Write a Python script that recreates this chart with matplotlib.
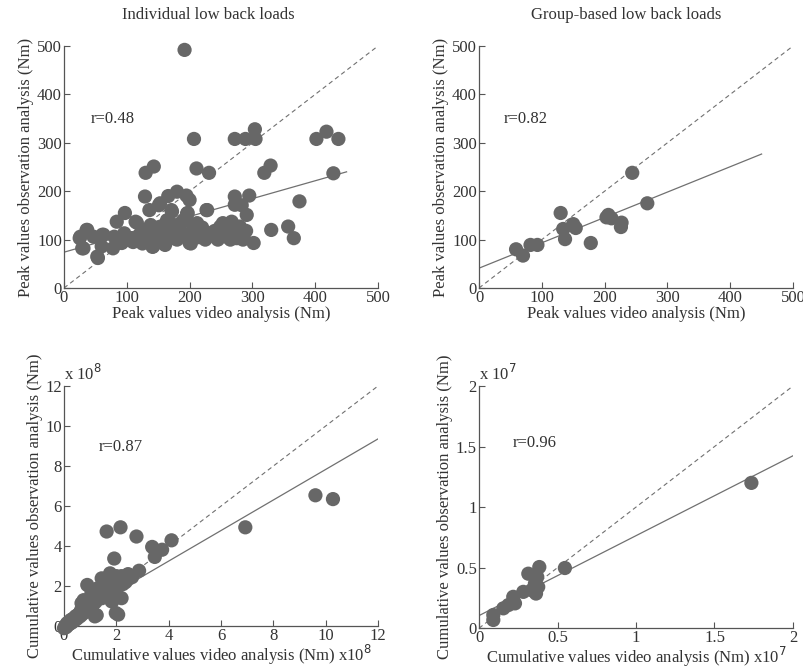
import matplotlib.pyplot as plt
from matplotlib.ticker import FormatStrFormatter

plt.rcParams['font.family'] = ['Liberation Serif', 'DejaVu Serif']

# Individual peak values (Nm)
peak_ind_video = [192, 207, 272, 289, 304, 305, 402, 418, 437, 429, 375, 330, 357, 366, 302,
                  319, 329, 130, 143, 211, 231, 129, 295, 272, 272, 291, 227, 180, 166, 195,
                  200, 153, 136, 171, 197, 97, 84, 116, 25, 36, 31, 47, 63, 54, 60, 78, 92,
                  108, 84, 142, 161, 200, 151, 114, 172, 196, 228, 26, 37, 29, 53, 61, 80, 96,
                  106, 127, 141, 159, 175, 202, 138, 154, 164, 186, 212, 233, 244, 249, 283,
                  253, 267, 280, 259, 275, 286, 254, 120, 130, 140, 150, 160, 170, 180, 185,
                  190, 205, 215, 220, 225, 235, 240, 245, 255, 260, 265, 278, 285, 290, 150,
                  175, 190, 205, 165, 145, 125, 110, 100, 88]
peak_ind_obs = [492, 308, 308, 308, 328, 308, 308, 323, 308, 237, 179, 120, 127, 103, 93,
                238, 253, 238, 251, 247, 238, 189, 191, 189, 172, 151, 161, 199, 190, 191,
                182, 175, 161, 161, 155, 155, 137, 135, 103, 120, 82, 106, 110, 62, 86, 82, 93,
                103, 103, 86, 89, 93, 171, 137, 158, 154, 161, 106, 120, 82, 65, 110, 106, 113,
                103, 120, 85, 92, 103, 92, 130, 127, 140, 134, 134, 113, 106, 127, 171,
                134, 137, 127, 106, 103, 106, 116, 110, 100, 115, 105, 118, 110, 100, 120,
                108, 115, 105, 125, 100, 108, 118, 100, 110, 120, 100, 112, 100, 118, 125,
                130, 140, 130, 115, 96, 92, 95, 100, 97]

# Group-based peak values (Nm)
peak_grp_video = [59, 70, 82, 93, 130, 134, 137, 150, 154, 178, 203, 211, 227, 226, 244, 268, 206]
peak_grp_obs = [80, 67, 89, 89, 155, 122, 101, 132, 124, 93, 146, 144, 135, 126, 238, 175, 151]

# Individual cumulative values (x10^8 Nm)
cum_ind_video = [0.05, 0.1, 0.12, 0.15, 0.2, 0.22, 0.25, 0.3, 0.32, 0.35, 0.4, 0.42, 0.45, 0.5,
                 0.52, 0.55, 0.6, 0.62, 0.65, 0.7, 0.72, 0.75, 0.8, 0.82, 0.85, 0.9, 0.92, 0.95,
                 1.0, 1.02, 1.05, 1.1, 1.12, 1.15, 1.2, 1.22, 1.25, 1.3, 1.32, 1.35, 1.4, 1.45,
                 1.5, 1.55, 1.6, 1.65, 1.7, 1.75, 1.8, 1.85, 1.9, 1.95, 2.0, 2.05, 2.1, 2.2,
                 2.25, 2.3, 2.35, 2.4, 2.5, 2.6, 2.87, 0.89, 1.44, 1.76, 2.2, 0.67, 1.18, 1.82,
                 1.98, 2.07, 1.63, 2.16, 2.77, 3.37, 3.47, 3.75, 4.11, 1.92, 6.93, 9.61, 10.28,
                 0.0, 0.08, 1.05, 1.3, 1.6, 0.75, 2.45]
cum_ind_obs = [0.02, 0.08, 0.15, 0.05, 0.2, 0.12, 0.3, 0.18, 0.35, 0.25, 0.42, 0.3, 0.5, 0.38,
               0.55, 0.45, 0.65, 0.5, 0.8, 0.6, 0.72, 0.95, 0.7, 0.85, 1.1, 0.8, 1.0, 1.25,
               0.9, 1.15, 1.4, 1.05, 1.3, 1.6, 1.2, 1.45, 0.55, 1.35, 1.7, 1.5, 1.9, 1.4,
               1.65, 2.1, 1.55, 1.8, 2.3, 1.7, 2.0, 1.25, 1.85, 2.15, 2.5, 1.95, 2.25, 1.4,
               2.1, 2.45, 2.2, 2.3, 2.4, 2.45, 2.77, 2.06, 2.39, 2.64, 2.5, 1.15, 0.49, 1.24,
               0.66, 0.58, 4.73, 4.94, 4.48, 3.96, 3.46, 3.82, 4.29, 3.38, 4.94, 6.54, 6.35,
               -0.1, -0.05, 1.7, 1.9, 2.2, 1.3, 2.6]

# Group-based cumulative values (x10^7 Nm)
cum_grp_video = [0.091, 0.091, 0.155, 0.187, 0.218, 0.229, 0.282, 0.314, 0.335, 0.363, 0.377,
                 0.384, 0.371, 0.356, 0.547, 1.735]
cum_grp_obs = [0.109, 0.068, 0.164, 0.191, 0.259, 0.205, 0.300, 0.450, 0.314, 0.286, 0.341,
               0.505, 0.423, 0.368, 0.497, 1.20]

# regression lines: intercept, slope, x range
fits = [(74, 0.369, 450), (41, 0.524, 450), (0.2, 0.763, 12), (0.104, 0.66, 2)]
r_values = ["r=0.48", "r=0.82", "r=0.87", "r=0.96"]

dot = '#676767'
line_c = '#707070'
axis_c = '#555555'
txt_c = '#333333'
fs = 12

fig = plt.figure(figsize=(8.04, 6.69), dpi=100)
ax_tl = fig.add_axes([0.0796, 0.5695, 0.3905, 0.3617])
ax_tr = fig.add_axes([0.5958, 0.5695, 0.3905, 0.3617])
ax_bl = fig.add_axes([0.0796, 0.0640, 0.3905, 0.3590])
ax_br = fig.add_axes([0.5958, 0.0610, 0.3905, 0.3620])

panels = [
    (ax_tl, peak_ind_video, peak_ind_obs, 500, range(0, 501, 100)),
    (ax_tr, peak_grp_video, peak_grp_obs, 500, range(0, 501, 100)),
    (ax_bl, cum_ind_video, cum_ind_obs, 12, range(0, 13, 2)),
    (ax_br, cum_grp_video, cum_grp_obs, 2, [0, 0.5, 1, 1.5, 2]),
]
r_pos = [(43, 349), (40, 349), (1.34, 8.97), (0.217, 1.53)]

for i, (ax, xv, yv, lim, ticks) in enumerate(panels):
    ax.scatter(xv, yv, s=105, color=dot, edgecolors='none', zorder=3, clip_on=False)
    ax.plot([0, lim], [0, lim], ls=(0, (4, 3)), color=line_c, lw=0.8, zorder=2)
    b, m, xe = fits[i]
    ax.plot([0, xe], [b, b + m * xe], color=line_c, lw=0.9, zorder=2)
    ax.set_xlim(0, lim)
    ax.set_ylim(0, lim)
    ax.set_xticks(list(ticks))
    ax.set_yticks(list(ticks))
    ax.xaxis.set_major_formatter(FormatStrFormatter('%g'))
    ax.yaxis.set_major_formatter(FormatStrFormatter('%g'))
    for s in ['top', 'right']:
        ax.spines[s].set_visible(False)
    for s in ['left', 'bottom']:
        ax.spines[s].set_color(axis_c)
        ax.spines[s].set_linewidth(0.9)
    ax.tick_params(direction='in', length=4, width=0.8, color=axis_c,
                   labelsize=fs, labelcolor=txt_c, pad=1.5)
    ax.text(r_pos[i][0], r_pos[i][1], r_values[i], fontsize=fs, color=txt_c,
            va='center', ha='left')

for ax in (ax_tl, ax_tr):
    ax.set_xlabel("Peak values video analysis (Nm)", fontsize=fs, color=txt_c, labelpad=0)
    ax.set_ylabel("Peak values observation analysis (Nm)", fontsize=fs, color=txt_c, labelpad=2)
ax_bl.set_xlabel("Cumulative values video analysis (Nm) x10$^8$", fontsize=fs,
                 color=txt_c, labelpad=-1)
ax_br.set_xlabel("Cumulative values video analysis (Nm) x10$^7$", fontsize=fs,
                 color=txt_c, labelpad=-1)
for ax in (ax_bl, ax_br):
    ax.set_ylabel("Cumulative values observation analysis (Nm)", fontsize=fs,
                  color=txt_c, labelpad=2)

ax_bl.text(0, 1.01, "x 10$^8$", transform=ax_bl.transAxes, fontsize=fs,
           color=txt_c, va='bottom', ha='left')
ax_br.text(0, 1.01, "x 10$^7$", transform=ax_br.transAxes, fontsize=fs,
           color=txt_c, va='bottom', ha='left')

fig.text(0.259, 0.978, "Individual low back loads", fontsize=fs, color=txt_c,
         ha='center', va='center')
fig.text(0.779, 0.978, "Group-based low back loads", fontsize=fs, color=txt_c,
         ha='center', va='center')

fig.savefig('out.png', dpi=100)
